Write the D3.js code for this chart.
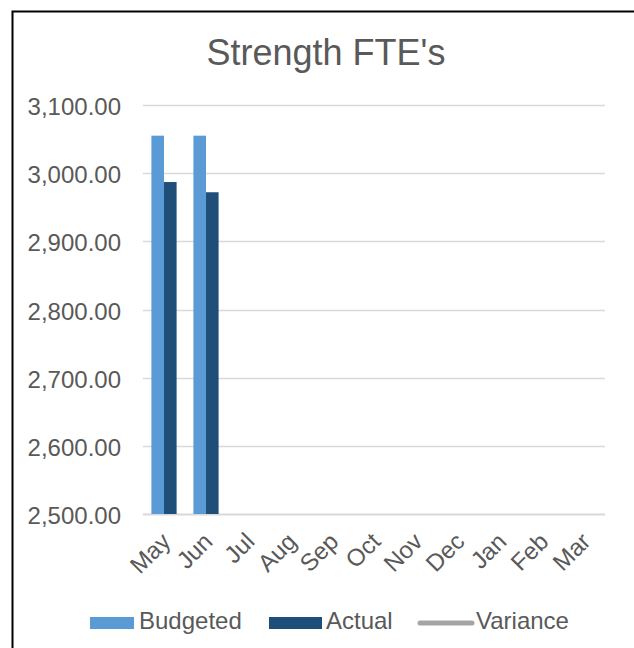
<!DOCTYPE html>
<html>
<head>
<meta charset="utf-8">
<script src="https://cdn.jsdelivr.net/npm/d3@7"></script>
<style>
  body { margin: 0; background: #fff; }
  svg text { font-family: "Liberation Sans", Arial, sans-serif; fill: #595959; }
</style>
</head>
<body>
<svg id="chart" width="634" height="648"></svg>
<script>
const months = ["May", "Jun", "Jul", "Aug", "Sep", "Oct", "Nov", "Dec", "Jan", "Feb", "Mar"];
const budgeted = [3055, 3055, null, null, null, null, null, null, null, null, null];
const actual = [2987, 2972, null, null, null, null, null, null, null, null, null];
const variance = [68, 83, null, null, null, null, null, null, null, null, null];
const yTicks = [2500, 2600, 2700, 2800, 2900, 3000, 3100];

const svg = d3.select("#chart");
const W = 634, H = 648;
const m = { left: 143, right: 29, top: 105, bottom: 134 };

svg.append("rect").attr("width", W).attr("height", H).attr("fill", "#fff");
// chart border
svg.append("rect")
  .attr("x", 12.5).attr("y", 11.5)
  .attr("width", W).attr("height", H)
  .attr("fill", "none").attr("stroke", "#000").attr("stroke-width", 2);

svg.append("text")
  .attr("x", 326).attr("y", 65)
  .attr("text-anchor", "middle")
  .attr("font-size", 36)
  .text("Strength FTE's");

const x = d3.scaleBand().domain(months).range([m.left, W - m.right]);
const y = d3.scaleLinear().domain([2500, 3100]).range([H - m.bottom, m.top]);

// gridlines
svg.append("g").selectAll("line").data(yTicks).join("line")
  .attr("x1", m.left).attr("x2", W - m.right)
  .attr("y1", d => Math.round(y(d)) + 0.5).attr("y2", d => Math.round(y(d)) + 0.5)
  .attr("stroke", "#d9d9d9").attr("stroke-width", d => d === 2500 ? 2 : 1.3);

// y labels
svg.append("g").selectAll("text").data(yTicks).join("text")
  .attr("x", 121).attr("y", d => y(d) + 10)
  .attr("text-anchor", "end")
  .attr("font-size", 24)
  .text(d3.format(",.2f"));

// bars
const bw = 12.6;
const bars = svg.append("g");
bars.selectAll(".b").data(months.map((mo, i) => ({ mo, v: budgeted[i] })).filter(d => d.v != null))
  .join("rect")
  .attr("x", d => x(d.mo) + x.bandwidth() / 2 - bw)
  .attr("width", bw)
  .attr("y", d => y(d.v)).attr("height", d => y(2500) - y(d.v))
  .attr("fill", "#5b9bd5");
bars.selectAll(".a").data(months.map((mo, i) => ({ mo, v: actual[i] })).filter(d => d.v != null))
  .join("rect")
  .attr("x", d => x(d.mo) + x.bandwidth() / 2)
  .attr("width", bw)
  .attr("y", d => y(d.v)).attr("height", d => y(2500) - y(d.v))
  .attr("fill", "#1f4e79");

// variance line (falls below axis minimum, so clipped out)
svg.append("clipPath").attr("id", "plotclip")
  .append("rect").attr("x", m.left).attr("y", m.top)
  .attr("width", W - m.left - m.right).attr("height", H - m.top - m.bottom);
svg.append("path")
  .datum(months.map((mo, i) => ({ mo, v: variance[i] })).filter(d => d.v != null))
  .attr("clip-path", "url(#plotclip)")
  .attr("fill", "none").attr("stroke", "#a5a5a5").attr("stroke-width", 3)
  .attr("d", d3.line().x(d => x(d.mo) + x.bandwidth() / 2).y(d => y(d.v)));

// x labels rotated
svg.append("g").selectAll("text").data(months).join("text")
  .attr("transform", d => `translate(${x(d) + x.bandwidth() / 2 + 8},${H - m.bottom + 29}) rotate(-45)`)
  .attr("text-anchor", "end")
  .attr("font-size", 24)
  .text(d => d);

// legend
const lg = svg.append("g");
lg.append("rect").attr("x", 90).attr("y", 617).attr("width", 44).attr("height", 12).attr("fill", "#5b9bd5");
lg.append("text").attr("x", 139).attr("y", 629).attr("font-size", 24).text("Budgeted");
lg.append("rect").attr("x", 269).attr("y", 617).attr("width", 53).attr("height", 12).attr("fill", "#1f4e79");
lg.append("text").attr("x", 326).attr("y", 629).attr("font-size", 24).text("Actual");
lg.append("line").attr("x1", 420).attr("x2", 472).attr("y1", 623).attr("y2", 623)
  .attr("stroke", "#a5a5a5").attr("stroke-width", 5).attr("stroke-linecap", "round");
lg.append("text").attr("x", 476).attr("y", 629).attr("font-size", 24).text("Variance");
</script>
</body>
</html>
